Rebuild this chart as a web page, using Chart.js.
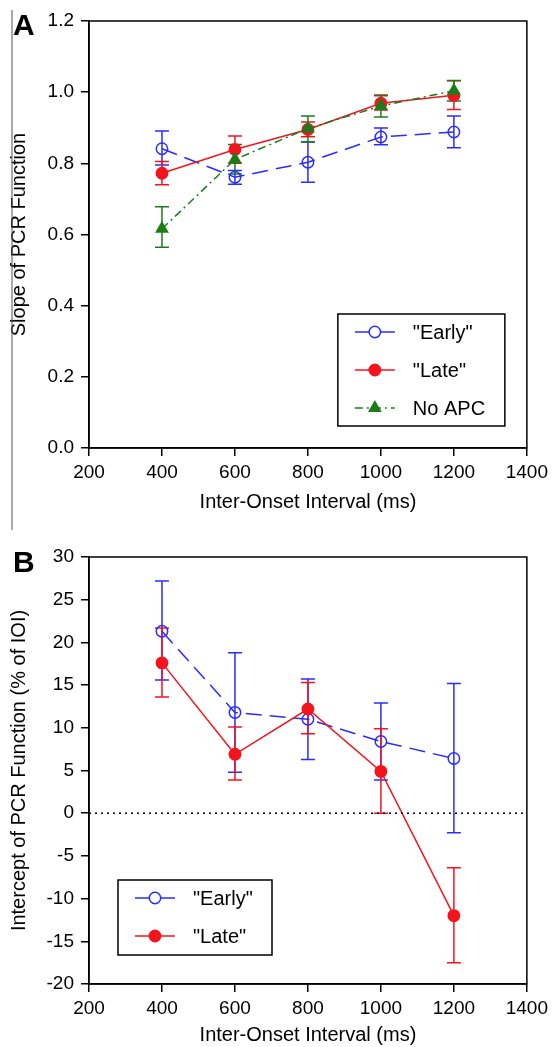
<!DOCTYPE html>
<html>
<head>
<meta charset="utf-8">
<script src="https://cdn.jsdelivr.net/npm/chart.js@4.4.0/dist/chart.umd.min.js"></script>
<style>
  html, body { margin: 0; padding: 0; background: #fff; }
  canvas { display: block; }
</style>
</head>
<body>
<canvas id="chartA" width="553" height="530"></canvas>
<canvas id="chartB" width="553" height="517"></canvas>
<script>
// inter-onset intervals (ms)
const ioi = [400, 600, 800, 1000, 1200];

// panel A: slope of PCR function
const slopeEarly     = [0.841, 0.761, 0.803, 0.874, 0.888];
const slopeEarlyLow  = [0.795, 0.741, 0.747, 0.852, 0.844];
const slopeEarlyHigh = [0.891, 0.780, 0.860, 0.899, 0.933];

const slopeLate     = [0.772, 0.839, 0.895, 0.969, 0.991];
const slopeLateLow  = [0.740, 0.800, 0.875, 0.950, 0.951];
const slopeLateHigh = [0.805, 0.877, 0.916, 0.992, 1.032];

const slopeNoApc     = [0.616, 0.811, 0.898, 0.961, 1.004];
const slopeNoApcLow  = [0.564, 0.770, 0.860, 0.930, 0.975];
const slopeNoApcHigh = [0.678, 0.853, 0.933, 0.990, 1.033];

// panel B: intercept of PCR function (% of IOI)
const interEarly     = [21.3, 11.8, 11.0, 8.4, 6.4];
const interEarlyLow  = [15.6, 4.8, 6.3, 3.9, -2.3];
const interEarlyHigh = [27.2, 18.8, 15.7, 12.9, 15.2];

const interLate     = [17.6, 6.9, 12.2, 4.9, -12.0];
const interLateLow  = [13.6, 3.9, 9.3, 0.0, -17.5];
const interLateHigh = [21.7, 10.1, 15.3, 9.9, -6.4];

const blue = '#2b2bff';
const red = '#f5141e';
const green = '#1a7d1a';
const FONT = 'Liberation Sans, Arial, Helvetica, sans-serif';

function pts(vals) {
    return ioi.map((x, i) => ({ x: x, y: vals[i] }));
}

const errorBars = {
    id: 'errorBars',
    beforeDatasetsDraw(chart) {
        const { ctx, scales: { x, y } } = chart;
        chart.data.datasets.forEach(ds => {
            if (!ds.errLow) return;
            ctx.save();
            ctx.strokeStyle = ds.borderColor;
            ctx.lineWidth = 1.5;
            ds.data.forEach((p, j) => {
                const px = x.getPixelForValue(p.x);
                const lo = y.getPixelForValue(ds.errLow[j]);
                const hi = y.getPixelForValue(ds.errHigh[j]);
                ctx.beginPath();
                ctx.moveTo(px, lo); ctx.lineTo(px, hi);
                ctx.moveTo(px - 7, lo); ctx.lineTo(px + 7, lo);
                ctx.moveTo(px - 7, hi); ctx.lineTo(px + 7, hi);
                ctx.stroke();
            });
            ctx.restore();
        });
    }
};

const frame = {
    id: 'frame',
    afterDraw(chart, args, opts) {
        const { ctx, chartArea: a, scales: { y } } = chart;
        ctx.save();
        ctx.strokeStyle = '#000';
        ctx.lineWidth = 1.5;
        ctx.strokeRect(a.left, a.top, a.right - a.left, a.bottom - a.top);
        if (opts.zeroLine) {
            const zy = y.getPixelForValue(0);
            ctx.setLineDash([2, 4]);
            ctx.beginPath();
            ctx.moveTo(a.left, zy);
            ctx.lineTo(a.right, zy);
            ctx.stroke();
            ctx.setLineDash([]);
        }
        // panel edge line on the left
        ctx.lineWidth = 1;
        ctx.strokeStyle = '#555';
        ctx.beginPath();
        ctx.moveTo(12, opts.edgeTop);
        ctx.lineTo(12, opts.edgeBottom);
        ctx.stroke();
        // panel letter
        ctx.fillStyle = '#000';
        ctx.font = 'bold 30px ' + FONT;
        ctx.textBaseline = 'alphabetic';
        ctx.fillText(opts.letter, 13, opts.letterY);
        ctx.restore();
    }
};

const boxLegend = {
    id: 'boxLegend',
    afterDraw(chart, args, opts) {
        const { ctx, chartArea: a } = chart;
        const left = opts.fromLeft != null ? a.left + opts.fromLeft : a.right - opts.fromRight - opts.width;
        const bottom = a.bottom - opts.fromBottom;
        const top = bottom - opts.height;
        ctx.save();
        ctx.fillStyle = '#fff';
        ctx.fillRect(left, top, opts.width, opts.height);
        ctx.strokeStyle = '#000';
        ctx.lineWidth = 1.5;
        ctx.strokeRect(left, top, opts.width, opts.height);
        opts.order.forEach((idx, k) => {
            const ds = chart.data.datasets[idx];
            const cy = top + opts.firstRow + k * opts.rowGap;
            ctx.strokeStyle = ds.borderColor;
            ctx.lineWidth = 1.5;
            ctx.setLineDash(ds.borderDash || []);
            ctx.beginPath();
            ctx.moveTo(left + 17, cy);
            ctx.lineTo(left + 57, cy);
            ctx.stroke();
            ctx.setLineDash([]);
            ctx.fillStyle = ds.pointBackgroundColor === 'rgba(0,0,0,0)' ? '#fff' : ds.pointBackgroundColor;
            ctx.strokeStyle = ds.pointBorderColor;
            Chart.helpers.drawPoint(ctx, {
                pointStyle: ds.pointStyle, radius: ds.pointRadius,
                borderWidth: ds.pointBorderWidth, rotation: 0
            }, left + 37, cy);
            ctx.fillStyle = '#000';
            ctx.font = '20px ' + FONT;
            ctx.textBaseline = 'middle';
            ctx.fillText(ds.label, left + 75, cy + 1);
        });
        ctx.restore();
    }
};

function series(label, vals, lo, hi, color, style, dash, filled, order) {
    return {
        label: label,
        data: pts(vals),
        errLow: lo,
        errHigh: hi,
        borderColor: color,
        borderWidth: 1.5,
        borderDash: dash,
        pointStyle: style,
        pointRadius: style === 'triangle' ? 6.5 : 5.7,
        pointBorderWidth: 1.5,
        pointBorderColor: color,
        pointBackgroundColor: filled ? color : 'rgba(0,0,0,0)',
        fill: false,
        tension: 0,
        order: order
    };
}

function axes(yMin, yMax, yStep, yTitle, yFmt, xTitlePad) {
    return {
        x: {
            type: 'linear',
            min: 200, max: 1400,
            afterFit: s => { s.height = s.chart.height - s.chart.options.layout.xBottom; },
            ticks: { stepSize: 200, color: '#000', padding: 5, font: { family: FONT, size: 19 }, callback: v => v },
            grid: { drawOnChartArea: false, drawTicks: true, tickLength: 8, color: '#000', lineWidth: 1.5 },
            border: { display: true, color: '#000', width: 1.5 },
            title: { display: true, text: 'Inter-Onset Interval (ms)', color: '#000',
                     padding: { top: 0, bottom: xTitlePad }, font: { family: FONT, size: 20 } }
        },
        y: {
            min: yMin, max: yMax,
            afterFit: s => { s.width = 89; },
            ticks: { stepSize: yStep, color: '#000', padding: 7, font: { family: FONT, size: 19 }, callback: yFmt },
            grid: { drawOnChartArea: false, drawTicks: true, tickLength: 8, color: '#000', lineWidth: 1.5 },
            border: { display: true, color: '#000', width: 1.5 },
            title: { display: true, text: yTitle, color: '#000',
                     padding: { top: 7, bottom: 0 }, font: { family: FONT, size: 20 } }
        }
    };
}

new Chart(document.getElementById('chartA').getContext('2d'), {
    type: 'line',
    data: {
        datasets: [
            series('"Early"', slopeEarly, slopeEarlyLow, slopeEarlyHigh, blue, 'circle', [16, 8], false, 2),
            series('"Late"', slopeLate, slopeLateLow, slopeLateHigh, red, 'circle', [], true, 1),
            series('No APC', slopeNoApc, slopeNoApcLow, slopeNoApcHigh, green, 'triangle', [8, 4, 2, 4], true, 0)
        ]
    },
    options: {
        responsive: false,
        animation: false,
        events: [],
        layout: { padding: { left: 0, right: 25, top: 21, bottom: 0 }, xBottom: 448 },
        scales: axes(0, 1.2, 0.2, 'Slope of PCR Function', v => v.toFixed(1), 16),
        plugins: {
            legend: { display: false },
            tooltip: { enabled: false },
            frame: { letter: 'A', letterY: 35, edgeTop: 10, edgeBottom: 530, zeroLine: false },
            boxLegend: { order: [0, 1, 2], fromRight: 22, fromBottom: 22, width: 167, height: 112, firstRow: 18, rowGap: 38 }
        }
    },
    plugins: [errorBars, frame, boxLegend]
});

new Chart(document.getElementById('chartB').getContext('2d'), {
    type: 'line',
    data: {
        datasets: [
            series('"Early"', interEarly, interEarlyLow, interEarlyHigh, blue, 'circle', [16, 8], false, 1),
            series('"Late"', interLate, interLateLow, interLateHigh, red, 'circle', [], true, 0)
        ]
    },
    options: {
        responsive: false,
        animation: false,
        events: [],
        layout: { padding: { left: 0, right: 25, top: 27, bottom: 0 }, xBottom: 454 },
        scales: axes(-20, 30, 5, 'Intercept of PCR Function (% of IOI)', v => v, 0),
        plugins: {
            legend: { display: false },
            tooltip: { enabled: false },
            frame: { letter: 'B', letterY: 42, edgeTop: 0, edgeBottom: 0, zeroLine: true },
            boxLegend: { order: [0, 1], fromLeft: 29, fromBottom: 29, width: 154, height: 75, firstRow: 18, rowGap: 38 }
        }
    },
    plugins: [errorBars, frame, boxLegend]
});
</script>
</body>
</html>
